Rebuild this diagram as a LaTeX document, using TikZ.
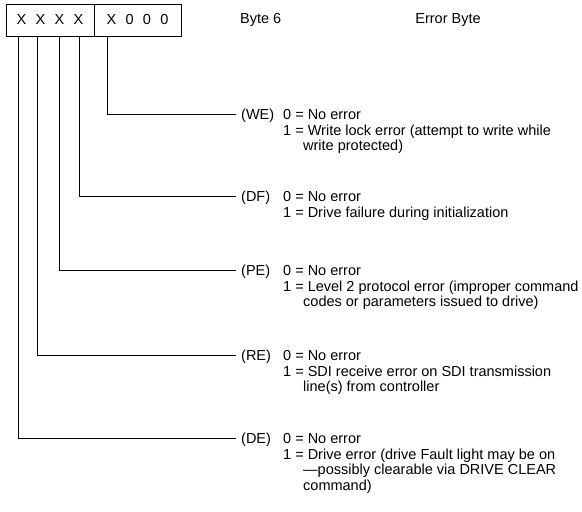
\documentclass[tikz,border=0pt]{standalone}
\usepackage{fontspec}
\setmainfont{Liberation Sans}
\newcommand{\bitgap}{\hspace{9.3pt}}
\newcommand{\hang}{\hspace*{20pt}}
\begin{document}
\begin{tikzpicture}[x=1pt,y=-1pt,
  txt/.style={inner sep=0pt, font=\fontsize{14.5}{15.7}\selectfont},
  bytebox/.style={draw, line width=0.9pt, minimum height=32pt, inner sep=0pt, font=\fontsize{14.5}{15.7}\selectfont},
  code/.style={txt, anchor=base west},
  desc/.style={txt, anchor=north west, align=left},
  conn/.style={line width=0.9pt}]
\useasboundingbox (0,0) rectangle (582,512);
\node[bytebox, minimum width=88pt] (hi) at (50,20) {X\bitgap X\bitgap X\bitgap X};
\node[bytebox, minimum width=87pt] (lo) at (137.5,20) {X\bitgap 0\bitgap 0\bitgap 0};
\node[txt, anchor=west] (byte) at (240,20) {Byte 6};
\node[txt] (err) at (448,20) {Error Byte};
% bit connection points on the bottom edge
\coordinate (b7) at (18,36);
\coordinate (b6) at (37,36);
\coordinate (b5) at (59,36);
\coordinate (b4) at (79,36);
\coordinate (b3) at (107,36);
% codes (baseline = line y + 5.5)
\node[code] (we) at (241,119.5) {(WE)};
\node[code] (df) at (241,201.5) {(DF)};
\node[code] (pe) at (241,275.5) {(PE)};
\node[code] (re) at (241,360.5) {(RE)};
\node[code] (de) at (241,443.5) {(DE)};
% descriptions (top = line y - 4.9)
\node[desc] (wed) at (283,109.1) {0 = No error\\1 = Write lock error (attempt to write while\\\hang write protected)};
\node[desc] (dfd) at (283,191.1) {0 = No error\\1 = Drive failure during initialization};
\node[desc] (ped) at (283,265.1) {0 = No error\\1 = Level 2 protocol error (improper command\\\hang codes or parameters issued to drive)};
\node[desc] (red) at (283,350.1) {0 = No error\\1 = SDI receive error on SDI transmission\\\hang line(s) from controller};
\node[desc] (ded) at (283,433.1) {0 = No error\\1 = Drive error (drive Fault light may be on\\\hang ---possibly clearable via DRIVE CLEAR\\\hang command)};
% connectors
\draw[conn] (b3) |- ([xshift=-5pt]we.west |- 0,114);
\draw[conn] (b4) |- ([xshift=-5pt]df.west |- 0,196);
\draw[conn] (b5) |- ([xshift=-5pt]pe.west |- 0,270);
\draw[conn] (b6) |- ([xshift=-5pt]re.west |- 0,355);
\draw[conn] (b7) |- ([xshift=-5pt]de.west |- 0,438);
\end{tikzpicture}
\end{document}
